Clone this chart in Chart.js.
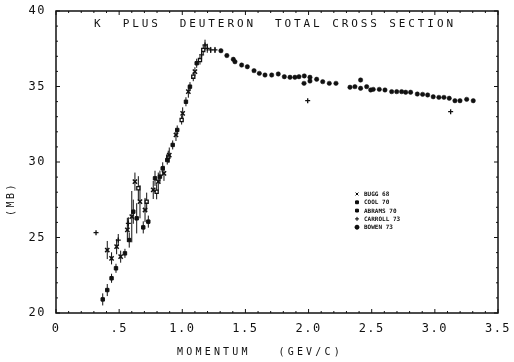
<!DOCTYPE html>
<html>
<head>
<meta charset="utf-8">
<script src="https://cdn.jsdelivr.net/npm/chart.js@4/dist/chart.umd.min.js"></script>
<style>
  html, body { margin: 0; padding: 0; background: #fff; }
  #chart { display: block; }
</style>
</head>
<body>
<canvas id="chart" width="514" height="362"></canvas>
<script>
// Chart data.

const chartTitle = 'K  PLUS  DEUTERON  TOTAL CROSS SECTION';
const xTitle = 'MOMENTUM   (GEV/C)';
const yTitle = '(MB)';
const xTickLabels = ['0', '.5', '1.0', '1.5', '2.0', '2.5', '3.0', '3.5'];
const yTickLabels = ['20', '25', '30', '35', '40'];
const seriesNames = ['BUGG 68', 'COOL 70', 'ABRAMS 70', 'CARROLL 73', 'BOWEN 73'];

const buggP = [0.406, 0.44, 0.48, 0.512, 0.565, 0.60, 0.625, 0.665, 0.705, 0.77, 0.81, 0.855, 0.897, 0.95, 1.003, 1.048, 1.10];
const buggS = [24.17, 23.62, 24.39, 23.73, 25.5, 26.38, 28.7, 27.37, 26.82, 28.15, 28.7, 29.25, 30.46, 31.79, 33.22, 34.66, 35.98];
const buggErr = [0.6, 0.4, 0.5, 0.4, 0.8, 1.7, 0.6, 1.1, 0.8, 0.6, 0.6, 0.5, 0.5, 0.4, 0.4, 0.4, 0.3];

const coolP = [0.37, 0.406, 0.44, 0.475, 0.546, 0.58, 0.612, 0.639, 0.691, 0.731, 0.784, 0.823, 0.845, 0.881, 0.924, 0.96, 1.029, 1.061, 1.114];
const coolS = [20.9, 21.52, 22.3, 22.96, 23.95, 24.83, 26.71, 26.27, 25.67, 26.05, 28.92, 29.03, 29.58, 30.13, 31.13, 32.12, 33.99, 34.99, 36.54];
const coolErr = [0.4, 0.4, 0.3, 0.3, 0.3, 0.5, 0.8, 1.0, 0.4, 0.4, 0.5, 0.4, 0.4, 0.3, 0.3, 0.3, 0.3, 0.3, 0.3];

const abramsP = [0.652, 0.718, 0.797, 0.889, 0.995, 1.087, 1.14, 1.166];
const abramsS = [28.26, 27.37, 28.03, 30.35, 32.78, 35.65, 36.75, 37.42];
const abramsErr = [0.8, 0.6, 0.5, 0.4, 0.3, 0.3, 0.3, 0.3];

const carrollP = [0.317, 0.493, 0.573, 1.153, 1.18, 1.198, 1.225, 1.259, 1.993, 3.125];
const carrollS = [25.32, 24.83, 25.94, 37.09, 37.75, 37.53, 37.42, 37.42, 34.06, 33.33];
const carrollErr = [0, 0.4, 0.4, 0.3, 0.35, 0.3, 0.2, 0.2, 0, 0];

const bowenP = [1.306, 1.353, 1.404, 1.417, 1.47, 1.515, 1.568, 1.61, 1.655, 1.708, 1.76, 1.808, 1.853, 1.892, 1.924, 1.966, 1.964, 2.011, 2.011, 2.064, 2.112, 2.164, 2.217, 2.328, 2.367, 2.412, 2.412, 2.46, 2.492, 2.512, 2.56, 2.605, 2.658, 2.698, 2.737, 2.769, 2.808, 2.861, 2.903, 2.943, 2.987, 3.032, 3.072, 3.114, 3.159, 3.199, 3.252, 3.304];
const bowenS = [37.37, 37.05, 36.8, 36.64, 36.42, 36.31, 36.05, 35.87, 35.76, 35.76, 35.83, 35.65, 35.61, 35.61, 35.65, 35.7, 35.21, 35.61, 35.36, 35.48, 35.32, 35.21, 35.21, 34.95, 34.99, 35.43, 34.88, 34.99, 34.77, 34.81, 34.81, 34.77, 34.66, 34.66, 34.66, 34.62, 34.62, 34.5, 34.48, 34.44, 34.32, 34.28, 34.28, 34.22, 34.06, 34.06, 34.15, 34.06];

const ink = '#111';
const plotFont = '"DejaVu Sans Mono", "Liberation Mono", monospace';

function toPoints(ps, ss) {
    return ps.map((p, i) => ({ x: p, y: ss[i] }));
}

// Plotter style letter spacing for the tick labels.

const spacingPlugin = {
    id: 'spacing',
    beforeLayout(chart) { chart.ctx.letterSpacing = '1.5px'; },
    beforeDraw(chart) { chart.ctx.letterSpacing = '1.5px'; }
};

// Frame with inward ticks on all four sides.

const framePlugin = {
    id: 'frame',
    afterDraw(chart) {
        const { ctx, chartArea: a, scales: { x, y } } = chart;
        ctx.save();
        ctx.strokeStyle = ink;
        ctx.lineWidth = 1.5;
        ctx.strokeRect(a.left, a.top, a.right - a.left, a.bottom - a.top);
        ctx.lineWidth = 1;
        for (let v = 0; v <= 35; v++) {
            const px = x.getPixelForValue(v / 10);
            const len = v % 5 === 0 ? 4 : 2;
            ctx.beginPath();
            ctx.moveTo(px, a.bottom); ctx.lineTo(px, a.bottom - len);
            ctx.moveTo(px, a.top); ctx.lineTo(px, a.top + len);
            ctx.stroke();
        }
        for (let v = 20; v <= 40; v++) {
            const py = y.getPixelForValue(v);
            const len = v % 5 === 0 ? 4 : 2;
            ctx.beginPath();
            ctx.moveTo(a.left, py); ctx.lineTo(a.left + len, py);
            ctx.moveTo(a.right, py); ctx.lineTo(a.right - len, py);
            ctx.stroke();
        }
        ctx.restore();
    }
};

// Vertical error bars, drawn through the scales.

const errorBarPlugin = {
    id: 'errorBars',
    beforeDatasetsDraw(chart) {
        const { ctx, scales: { x, y } } = chart;
        ctx.save();
        ctx.strokeStyle = ink;
        ctx.lineWidth = 1;
        chart.data.datasets.forEach(ds => {
            if (!ds.errors) return;
            ds.data.forEach((pt, i) => {
                const e = ds.errors[i];
                if (!e) return;
                const px = x.getPixelForValue(pt.x);
                ctx.beginPath();
                ctx.moveTo(px, y.getPixelForValue(pt.y - e));
                ctx.lineTo(px, y.getPixelForValue(pt.y + e));
                ctx.stroke();
            });
        });
        ctx.restore();
    }
};

// Title inside the frame, axis titles and the small legend box.

const labelsPlugin = {
    id: 'labels',
    afterDraw(chart) {
        const { ctx, chartArea: a } = chart;
        ctx.save();
        ctx.fillStyle = ink;
        ctx.font = '11px ' + plotFont;
        ctx.letterSpacing = '2.9px';
        ctx.textAlign = 'center';
        ctx.textBaseline = 'middle';
        ctx.fillText(chartTitle, (a.left + a.right) / 2 - 2, a.top + 13);

        ctx.font = '10px ' + plotFont;
        ctx.letterSpacing = '3.2px';
        ctx.fillText(xTitle, a.left + 204, a.bottom + 39);

        ctx.save();
        ctx.translate(11, a.top + 188);
        ctx.rotate(-Math.PI / 2);
        ctx.letterSpacing = '2.5px';
        ctx.fillText(yTitle, 0, 0);
        ctx.restore();

        ctx.font = 'bold 6px ' + plotFont;
        ctx.letterSpacing = '0px';
        ctx.textAlign = 'left';
        const lx = a.left + 301;
        const ly = a.top + 183;
        chart.data.datasets.forEach((ds, i) => {
            const yy = ly + i * 8.3;
            Chart.helpers.drawPoint(ctx, {
                pointStyle: ds.pointStyle,
                radius: 2,
                borderWidth: 1.2
            }, lx, yy);
            ctx.fillStyle = ink;
            ctx.fillText(ds.label, lx + 7, yy + 0.5);
        });
        ctx.restore();
    }
};

const datasets = [
    { label: seriesNames[0], data: toPoints(buggP, buggS), errors: buggErr,
      pointStyle: 'crossRot', pointRadius: 3, borderWidth: 1.5, borderColor: ink, backgroundColor: ink },
    { label: seriesNames[1], data: toPoints(coolP, coolS), errors: coolErr,
      pointStyle: 'rect', pointRadius: 2.4, borderWidth: 1, borderColor: ink, backgroundColor: ink },
    { label: seriesNames[2], data: toPoints(abramsP, abramsS), errors: abramsErr,
      pointStyle: 'rect', pointRadius: 2.2, borderWidth: 1.3, borderColor: ink, backgroundColor: '#fff' },
    { label: seriesNames[3], data: toPoints(carrollP, carrollS), errors: carrollErr,
      pointStyle: 'cross', pointRadius: 2.5, borderWidth: 1.3, borderColor: ink, backgroundColor: ink },
    { label: seriesNames[4], data: toPoints(bowenP, bowenS),
      pointStyle: 'circle', pointRadius: 2.2, borderWidth: 0.5, borderColor: ink, backgroundColor: ink }
];

new Chart(document.getElementById('chart'), {
    type: 'scatter',
    data: { datasets },
    options: {
        responsive: false,
        animation: false,
        devicePixelRatio: 1,
        layout: { padding: { top: 11, right: 16, left: 0, bottom: 0 } },
        plugins: {
            legend: { display: false },
            tooltip: { enabled: false }
        },
        scales: {
            x: {
                type: 'linear',
                min: 0,
                max: 3.5,
                afterFit: s => { s.height = 49; },
                afterBuildTicks: s => { s.ticks = xTickLabels.map((t, i) => ({ value: i * 0.5 })); },
                ticks: {
                    color: ink,
                    font: { family: plotFont, size: 12 },
                    padding: 1,
                    maxRotation: 0,
                    autoSkip: false,
                    callback: (v, i) => xTickLabels[i]
                },
                grid: { display: false },
                border: { display: false }
            },
            y: {
                type: 'linear',
                min: 20,
                max: 40,
                afterFit: s => { s.width = 56; },
                afterBuildTicks: s => { s.ticks = yTickLabels.map(t => ({ value: Number(t) })); },
                ticks: {
                    color: ink,
                    font: { family: plotFont, size: 12 },
                    padding: 2,
                    autoSkip: false,
                    callback: (v, i) => yTickLabels[i]
                },
                grid: { display: false },
                border: { display: false }
            }
        }
    },
    plugins: [spacingPlugin, errorBarPlugin, framePlugin, labelsPlugin]
});
</script>
</body>
</html>
